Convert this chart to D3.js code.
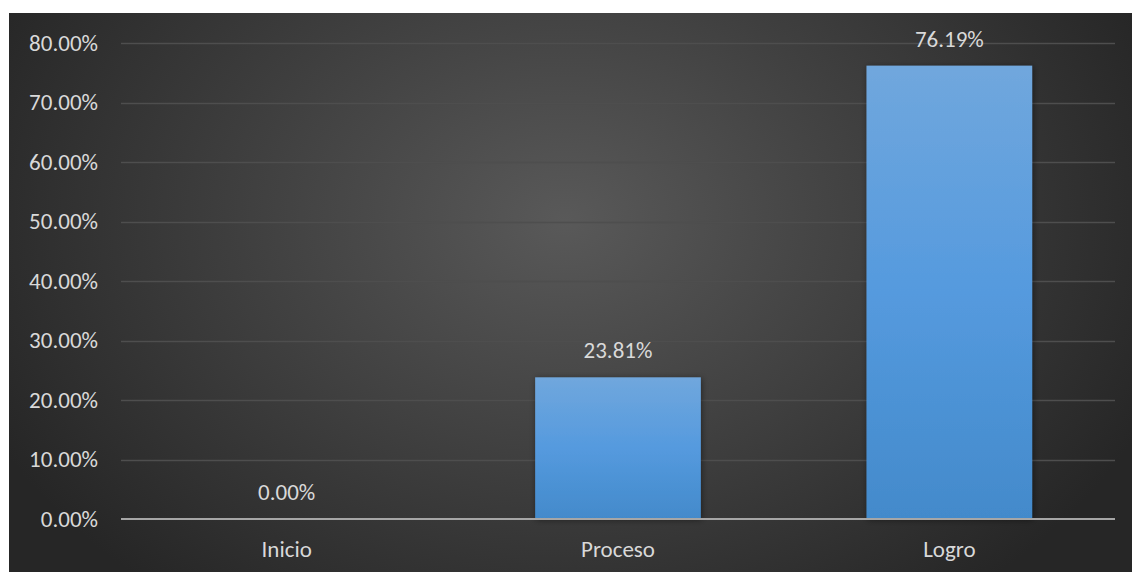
<!DOCTYPE html>
<html><head><meta charset="utf-8">
<script src="https://cdn.jsdelivr.net/npm/d3@7"></script>
<style>html,body{margin:0;padding:0;background:#fff;}svg{display:block;}</style>
</head><body>
<script>
const categories = ["Inicio", "Proceso", "Logro"];
const values = [0.00, 23.81, 76.19];
const yTicks = [0, 10, 20, 30, 40, 50, 60, 70, 80];

const W = 1132, H = 572;
const svg = d3.select("body").append("svg").attr("width", W).attr("height", H);
const defs = svg.append("defs");
const rg = defs.append("radialGradient").attr("id", "bg")
  .attr("gradientUnits", "userSpaceOnUse").attr("cx", 565).attr("cy", 220).attr("r", 640)
  .attr("gradientTransform", "translate(565,220) scale(1,0.75) translate(-565,-220)");
rg.append("stop").attr("offset", "0%").attr("stop-color", "#595959");
rg.append("stop").attr("offset", "100%").attr("stop-color", "#262626");
const lg = defs.append("linearGradient").attr("id", "bar").attr("x1", 0).attr("y1", 0).attr("x2", 0).attr("y2", 1);
lg.append("stop").attr("offset", "0%").attr("stop-color", "#70a7dd");
lg.append("stop").attr("offset", "50%").attr("stop-color", "#559ade");
lg.append("stop").attr("offset", "100%").attr("stop-color", "#438acb");
const f = defs.append("filter").attr("id", "sh").attr("x", "-10%").attr("y", "-10%").attr("width", "130%").attr("height", "130%");
f.append("feDropShadow").attr("dx", 1).attr("dy", 1).attr("stdDeviation", 3).attr("flood-color", "#000").attr("flood-opacity", 0.45);

svg.append("rect").attr("x", 9).attr("y", 13).attr("width", W - 9).attr("height", H - 13).attr("fill", "url(#bg)");

const x = d3.scaleBand().domain(categories).range([121, 1115]).paddingInner(0.5).paddingOuter(0.25);
const y = d3.scaleLinear().domain([0, 80]).range([519, 43]);

const font = "Carlito, Calibri, Lato, 'Open Sans', sans-serif";
const fs = 23;

// gridlines
svg.append("g").selectAll("line").data(yTicks.filter(d => d > 0)).join("line")
  .attr("x1", 121).attr("x2", 1115)
  .attr("y1", d => Math.round(y(d)) + 0.5).attr("y2", d => Math.round(y(d)) + 0.5)
  .attr("stroke", "#4e4e4e").attr("stroke-width", 1.5);

// y axis labels
const yAxis = d3.axisLeft(y).tickValues(yTicks).tickSize(0).tickPadding(0).tickFormat(d => d.toFixed(2) + "%");
const ga = svg.append("g").attr("transform", "translate(98,0)").call(yAxis);
ga.select(".domain").remove();
ga.selectAll("text").attr("font-family", font).attr("font-size", fs).attr("fill", "#d9d9d9");

// bars
svg.append("g").selectAll("rect").data(values).join("rect")
  .attr("x", (d, i) => x(categories[i])).attr("width", x.bandwidth())
  .attr("y", d => y(d)).attr("height", d => y(0) - y(d))
  .attr("fill", "url(#bar)").attr("filter", "url(#sh)");

// baseline
svg.append("line").attr("x1", 121).attr("x2", 1115).attr("y1", y(0)).attr("y2", y(0))
  .attr("stroke", "#a6a6a6").attr("stroke-width", 2);

// data labels
svg.append("g").selectAll("text").data(values).join("text")
  .attr("x", (d, i) => x(categories[i]) + x.bandwidth() / 2)
  .attr("y", d => y(d) - 19)
  .attr("text-anchor", "middle").attr("font-family", font).attr("font-size", fs).attr("fill", "#d9d9d9")
  .text(d => d.toFixed(2) + "%");

// x axis labels
const xAxis = d3.axisBottom(x).tickSize(0).tickPadding(0);
const gx = svg.append("g").attr("transform", "translate(0,557)").call(xAxis);
gx.select(".domain").remove();
gx.selectAll("text").attr("dy", 0).attr("font-family", font).attr("font-size", fs).attr("fill", "#d9d9d9");
</script>
</body></html>
